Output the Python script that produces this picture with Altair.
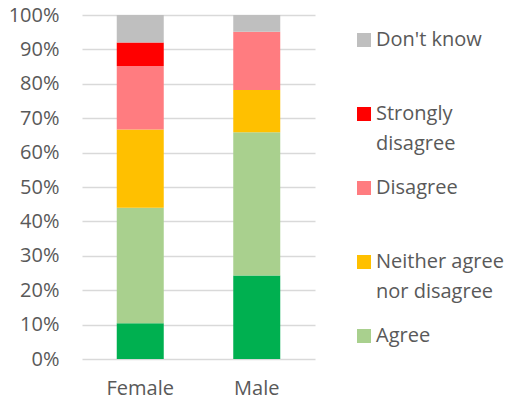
import altair as alt
import pandas as pd

genders = ["Female", "Male"]
responses = ["Strongly agree", "Agree", "Neither agree nor disagree",
             "Disagree", "Strongly disagree", "Don't know"]
female_pct = [10.4, 33.6, 22.7, 18.5, 6.8, 8.0]
male_pct = [24.3, 41.6, 12.3, 16.9, 0.0, 4.9]
colors = ["#00B050", "#A9D08E", "#FFC000", "#FF7C80", "#FF0000", "#BFBFBF"]
legend_values = ["Don't know", "Strongly disagree", "Disagree",
                 "Neither agree nor disagree", "Agree"]
legend_lines = {
    "Strongly disagree": ["Strongly", "disagree"],
    "Neither agree nor disagree": ["Neither agree", "nor disagree"],
}

rows = []
for g, vals in zip(genders, [female_pct, male_pct]):
    for i, (r, v) in enumerate(zip(responses, vals)):
        rows.append({"gender": g, "response": r, "pct": v, "idx": i})
df = pd.DataFrame(rows)

def js_list(lst):
    return "[" + ",".join("'" + s + "'" for s in lst) + "]"

expr = ""
for k, v in legend_lines.items():
    expr += f"datum.label == '{k}' ? {js_list(v)} : "
expr += "[datum.label, '']"

font = "Open Sans"
grey = "#595959"

chart = alt.Chart(df).mark_bar(size=47).encode(
    x=alt.X("gender:N", sort=genders, title=None,
            scale=alt.Scale(paddingInner=0, paddingOuter=0),
            axis=alt.Axis(labelAngle=0, domain=False, ticks=False, labelPadding=19,
                          labelFont=font, labelFontSize=20, labelColor=grey)),
    y=alt.Y("pct:Q", stack="normalize", title=None,
            scale=alt.Scale(domain=[0, 1]),
            axis=alt.Axis(format=".0%", values=[i / 10 for i in range(11)],
                          domain=False, ticks=False, labelPadding=23,
                          labelFont=font, labelFontSize=20, labelColor=grey,
                          gridColor="#D9D9D9", gridWidth=1.5)),
    color=alt.Color("response:N",
                    scale=alt.Scale(domain=responses, range=colors),
                    legend=alt.Legend(title=None, orient="none", legendX=272, legendY=15,
                                      values=legend_values, symbolType="square",
                                      symbolSize=196, symbolStrokeWidth=0,
                                      labelFont=font, labelFontSize=20, labelColor=grey,
                                      labelExpr=expr, labelOffset=2, padding=0,
                                      gridAlign="all", rowPadding=24, labelLimit=300)),
    order=alt.Order("idx:Q", sort="ascending"),
).properties(
    width=233, height=344,
    autosize=alt.AutoSizeParams(type="none"),
    padding={"left": 74, "top": 7, "right": 190, "bottom": 37},
).configure(style={"guide-label": {"lineHeight": 30}}).configure_view(stroke=None)

chart.save("out.html", embed_options={"renderer": "svg", "actions": False})
